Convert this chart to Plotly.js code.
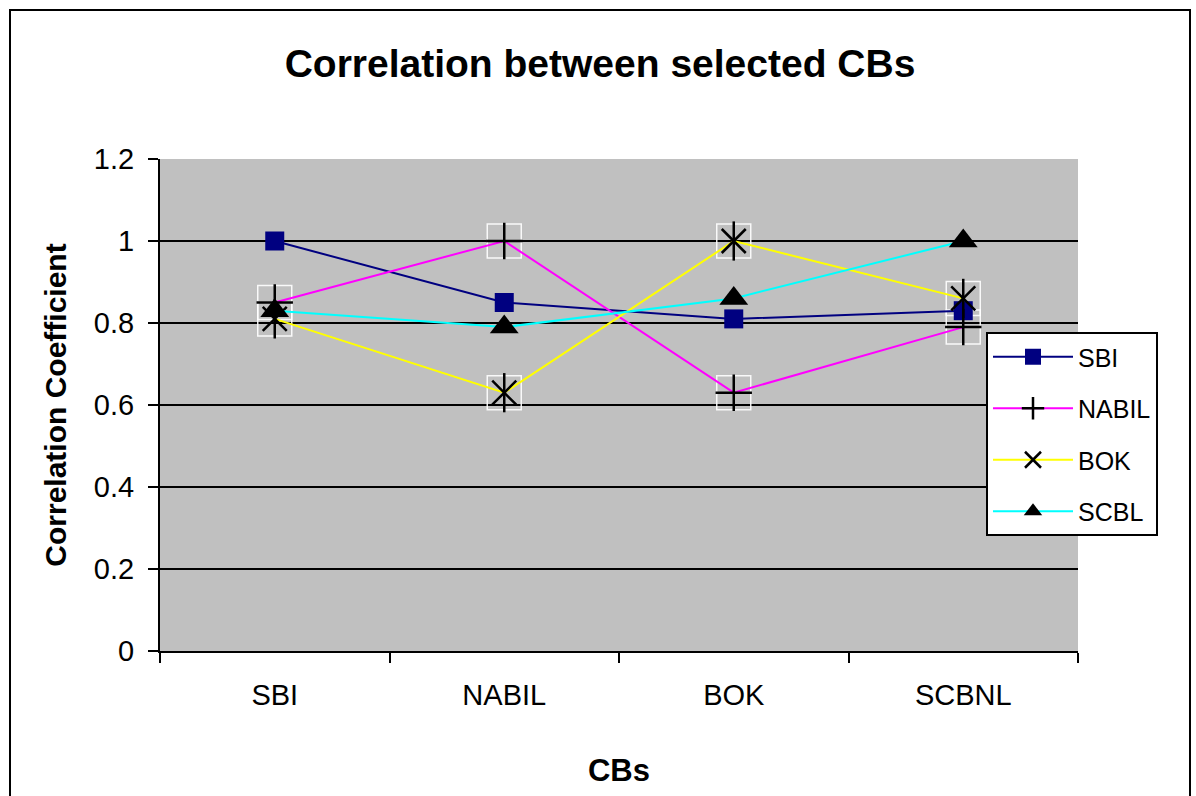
<!DOCTYPE html>
<html>
<head>
<meta charset="utf-8">
<script src="https://cdn.plot.ly/plotly-3.0.1.min.js"></script>
<style>html,body{margin:0;padding:0;background:#fff;}#chart{width:1196px;height:796px;}</style>
</head>
<body>
<div id="chart"></div>
<script>
var categories = ["SBI", "NABIL", "BOK", "SCBNL"];
var sbi   = [1.00, 0.85, 0.81, 0.83];
var nabil = [0.85, 1.00, 0.63, 0.79];
var bok   = [0.81, 0.63, 1.00, 0.86];
var scbl  = [0.83, 0.79, 0.86, 1.00];
var seriesNames = ["SBI", "NABIL", "BOK", "SCBL"];
var yTicks = [0, 0.2, 0.4, 0.6, 0.8, 1, 1.2];
var yTickText = ["0", "0.2", "0.4", "0.6", "0.8", "1", "1.2"];

var traces = [
  {x: categories, y: nabil, mode: "markers", showlegend: false, hoverinfo: "skip",
   marker: {symbol: "square-open", size: 34, color: "rgba(255,255,255,0.9)", line: {width: 1.5}}},
  {x: categories, y: bok, mode: "markers", showlegend: false, hoverinfo: "skip",
   marker: {symbol: "square-open", size: 34, color: "rgba(255,255,255,0.9)", line: {width: 1.5}}},
  {x: categories, y: sbi, name: seriesNames[0], mode: "lines+markers", legendgroup: "a",
   line: {color: "#000080", width: 2},
   marker: {symbol: "square", size: 19, color: "#000080"}},
  {x: categories, y: nabil, name: seriesNames[1], mode: "lines+markers", legendgroup: "b",
   line: {color: "#FF00FF", width: 2},
   marker: {symbol: "cross-thin-open", size: 26, color: "#000000", line: {width: 2.5, color: "#000000"}}},
  {x: categories, y: bok, name: seriesNames[2], mode: "lines+markers", legendgroup: "c",
   line: {color: "#FFFF00", width: 2},
   marker: {symbol: "x-thin-open", size: 24, color: "#000000", line: {width: 2.5, color: "#000000"}}},
  {x: categories, y: bok, mode: "markers", showlegend: false, hoverinfo: "skip", legendgroup: "c",
   marker: {symbol: "line-ns-open", size: 28, color: "#000000", line: {width: 2.5, color: "#000000"}}},
  {x: categories, y: scbl, name: seriesNames[3], mode: "lines+markers", legendgroup: "d",
   line: {color: "#00FFFF", width: 2},
   marker: {symbol: "triangle-up", size: 25, color: "#000000"}}
];

var layout = {
  width: 1196, height: 796,
  paper_bgcolor: "#FFFFFF",
  plot_bgcolor: "#C0C0C0",
  margin: {l: 160, r: 118, t: 159, b: 145},
  font: {family: "Liberation Sans, Arial, sans-serif", color: "#000"},
  title: {text: "<b>Correlation between selected CBs</b>", font: {size: 39, color: "#000"},
          x: 600 / 1196, xref: "container", xanchor: "center", y: 1 - 63/796, yanchor: "middle"},
  xaxis: {
    type: "category", tickmode: "array", tickvals: categories,
    tickson: "boundaries", ticks: "outside", ticklen: 10, tickwidth: 2, tickcolor: "#000",
    showline: true, linecolor: "#000", linewidth: 2, showgrid: false, zeroline: false,
    tickfont: {size: 29}, range: [-0.5, 3.5], ticklabelstandoff: 17,
    title: {text: "<b>CBs</b>", font: {size: 31}, standoff: 50}
  },
  yaxis: {
    range: [0, 1.2], tickvals: yTicks, ticktext: yTickText,
    ticks: "outside", ticklen: 10, tickwidth: 2, tickcolor: "#000",
    showline: true, linecolor: "#000", linewidth: 2,
    showgrid: true, gridcolor: "#000", gridwidth: 2, zeroline: false,
    tickfont: {size: 29}, ticklabelstandoff: 8,
    title: {text: "<b>Correlation Coefficient</b>", font: {size: 30}, standoff: 18}
  },
  legend: {
    x: (986 - 160) / 918, y: (651 - 332) / 492, xanchor: "left", yanchor: "top",
    bgcolor: "#FFFFFF", bordercolor: "#000", borderwidth: 2,
    font: {size: 25}, tracegroupgap: 16, itemwidth: 80
  },
  shapes: [
    {type: "rect", xref: "paper", yref: "paper",
     x0: (10 - 160) / 918, x1: (1190 - 160) / 918, y0: (651 - 810) / 492, y1: (651 - 10) / 492,
     line: {color: "#000", width: 2}, fillcolor: "rgba(0,0,0,0)", layer: "below"}
  ],
  showlegend: true
};

Plotly.newPlot("chart", traces, layout, {displayModeBar: false, staticPlot: true});
</script>
</body>
</html>
